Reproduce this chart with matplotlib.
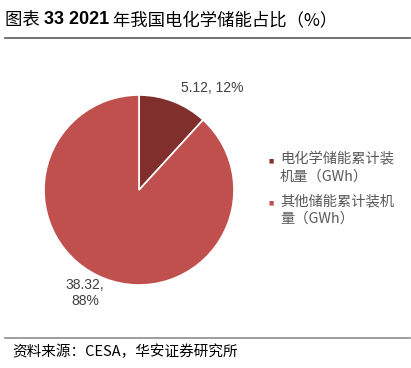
import matplotlib.pyplot as plt
import matplotlib.lines as mlines

plt.rcParams['font.family'] = ['Noto Sans CJK SC', 'DejaVu Sans']

# data
labels = ['电化学储能累计装\n机量（GWh）', '其他储能累计装机\n量（GWh）']
values = [5.12, 38.32]
pct_text = ['5.12, 12%', '38.32,\n88%']
colors = ['#802F2C', '#C0504D']

W, H = 411, 368
fig = plt.figure(figsize=(W / 100, H / 100), dpi=100)

# pie panel, center ~(139,190), radius ~95 px
r = 95
cx, cy = 139, 190
ax = fig.add_axes([(cx - r) / W, 1 - (cy + r) / H, 2 * r / W, 2 * r / H])
wedges, _ = ax.pie(values, colors=colors, startangle=90, counterclock=False,
                   wedgeprops=dict(linewidth=1.2, edgecolor='white'))
ax.set_xlim(-1, 1)
ax.set_ylim(-1, 1)
ax.set_aspect('equal')

latin = ['Liberation Sans', 'DejaVu Sans']

# value labels
fig.text(212 / W, 1 - 88 / H, pct_text[0], ha='center', va='center',
         fontsize=10, color='#404040', family=latin)
fig.text(85 / W, 1 - 293 / H, pct_text[1], ha='center', va='center',
         fontsize=10, color='#404040', linespacing=1.15, family=latin)

# legend
leg_y = [161, 203]
for lab, col, y in zip(labels, colors, leg_y):
    fig.text(271 / W, 1 - y / H, '■', color=col, fontsize=4, ha='center', va='center',
             family='DejaVu Sans')
    fig.text(280 / W, 1 - (y - 9) / H, lab, fontsize=10.3, color='#595959',
             ha='left', va='top', linespacing=1.3)

# title in three pieces (CJK regular, numbers bold)
t1 = fig.text(5 / W, 1 - 20 / H, '图表 ', fontsize=12.5, ha='left', va='center',
              color='black')
t2 = fig.text(0, 0, '33 2021', fontsize=13, fontweight='bold', family=latin,
              color='black', ha='left', va='center',
              transform=t1.get_transform())
t2.set_position((0, 0))
fig.canvas.draw()
r = fig.canvas.get_renderer()
bb = t1.get_window_extent(r).transformed(fig.transFigure.inverted())
t2.set_position((bb.x1, 1 - 20 / H))
t2.set_transform(fig.transFigure)
fig.canvas.draw()
bb2 = t2.get_window_extent(r).transformed(fig.transFigure.inverted())
fig.text(bb2.x1, 1 - 20 / H, ' 年我国电化学储能占比（%）', fontsize=12.5, ha='left',
         va='center', color='black')

fig.add_artist(mlines.Line2D([5 / W, 410 / W], [1 - 38 / H, 1 - 38 / H],
                             color='#595959', lw=1.2))
fig.add_artist(mlines.Line2D([5 / W, 410 / W], [1 - 338 / H, 1 - 338 / H],
                             color='#8c8c8c', lw=1.2))
fig.text(12 / W, 1 - 352 / H, '资料来源：CESA，华安证券研究所', fontsize=10.5,
         ha='left', va='center', color='black')

fig.savefig('out.png', dpi=100)
